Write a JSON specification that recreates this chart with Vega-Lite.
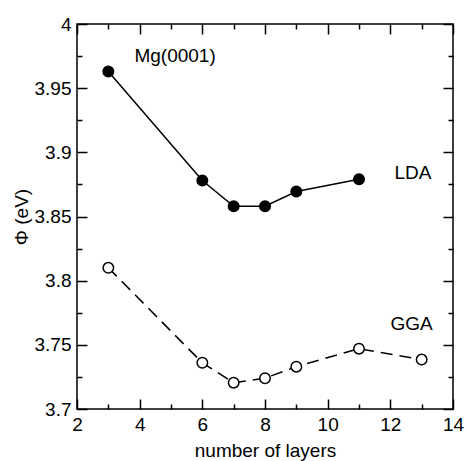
{
  "$schema": "https://vega.github.io/schema/vega-lite/v6.json",
  "width": 376,
  "height": 385,
  "autosize": "none",
  "padding": {"left": 77, "top": 24, "right": 14, "bottom": 52},
  "background": "white",
  "config": {
    "view": {"stroke": "black", "strokeWidth": 1.5},
    "font": "Liberation Sans",
    "axis": {
      "domain": false,
      "ticks": true,
      "tickColor": "#000000",
      "tickOpacity": 1,
      "tickWidth": 1.5,
      "grid": false,
      "labelFont": "Liberation Sans",
      "labelFontSize": 19,
      "labelColor": "black",
      "labelFlush": false,
      "labelOverlap": false,
      "titleFont": "Liberation Sans",
      "titleFontSize": 19,
      "titleFontWeight": "normal",
      "titleColor": "black"
    }
  },
  "data": {
    "values": [
      {"layers": 3, "phi": 3.963, "method": "LDA"},
      {"layers": 6, "phi": 3.878, "method": "LDA"},
      {"layers": 7, "phi": 3.858, "method": "LDA"},
      {"layers": 8, "phi": 3.858, "method": "LDA"},
      {"layers": 9, "phi": 3.8695, "method": "LDA"},
      {"layers": 11, "phi": 3.879, "method": "LDA"},
      {"layers": 3, "phi": 3.810, "method": "GGA"},
      {"layers": 6, "phi": 3.736, "method": "GGA"},
      {"layers": 7, "phi": 3.7205, "method": "GGA"},
      {"layers": 8, "phi": 3.724, "method": "GGA"},
      {"layers": 9, "phi": 3.733, "method": "GGA"},
      {"layers": 11, "phi": 3.747, "method": "GGA"},
      {"layers": 13, "phi": 3.7385, "method": "GGA"}
    ]
  },
  "layer": [
    {
      "transform": [{"filter": "datum.method === 'LDA'"}],
      "mark": {"type": "line", "color": "black", "strokeWidth": 1.5, "clip": false},
      "encoding": {
        "x": {
          "field": "layers", "type": "quantitative",
          "scale": {"domain": [2, 14], "nice": false, "zero": false},
          "axis": {
            "orient": "bottom",
            "offset": -10,
            "tickSize": 10,
            "labelPadding": 6,
            "values": [2, 4, 6, 8, 10, 12, 14],
            "title": "number of layers",
            "titleBaseline": "alphabetic",
            "titleY": 57
          }
        },
        "y": {
          "field": "phi", "type": "quantitative",
          "scale": {"domain": [3.7, 4.0], "nice": false, "zero": false},
          "axis": {
            "orient": "left",
            "offset": -10,
            "tickSize": 10,
            "labelPadding": 6,
            "values": [3.7, 3.75, 3.8, 3.85, 3.9, 3.95, 4.0],
            "format": "~g",
            "title": "Φ (eV)",
            "titleX": -66,
            "titleY": 192.5,
            "titleAlign": "center",
            "titleBaseline": "middle"
          }
        }
      }
    },
    {
      "transform": [{"filter": "datum.method === 'GGA'"}],
      "mark": {"type": "line", "color": "black", "strokeWidth": 1.5, "strokeDash": [12, 7], "clip": false},
      "encoding": {
        "x": {
          "field": "layers", "type": "quantitative",
          "axis": {
            "orient": "top",
            "offset": -10,
            "tickSize": 10,
            "labels": false,
            "title": null,
            "values": [2, 4, 6, 8, 10, 12, 14]
          }
        },
        "y": {
          "field": "phi", "type": "quantitative",
          "axis": {
            "orient": "right",
            "offset": -10,
            "tickSize": 10,
            "labels": false,
            "title": null,
            "values": [3.7, 3.75, 3.8, 3.85, 3.9, 3.95, 4.0]
          }
        }
      }
    },
    {
      "mark": {"type": "point", "shape": "circle", "size": 110, "stroke": "black", "strokeWidth": 1.5, "opacity": 1, "filled": false, "clip": false},
      "encoding": {
        "x": {
          "field": "layers", "type": "quantitative",
          "axis": {
            "orient": "bottom",
            "offset": -5,
            "tickSize": 5,
            "labels": false,
            "title": null,
            "values": [3, 5, 7, 9, 11, 13]
          }
        },
        "y": {
          "field": "phi", "type": "quantitative",
          "axis": {
            "orient": "left",
            "offset": -5,
            "tickSize": 5,
            "labels": false,
            "title": null,
            "values": [3.725, 3.775, 3.825, 3.875, 3.925, 3.975]
          }
        },
        "fill": {
          "field": "method", "type": "nominal",
          "scale": {"domain": ["LDA", "GGA"], "range": ["black", "white"]},
          "legend": null
        }
      }
    },
    {
      "data": {
        "values": [
          {"layers": 5.13, "phi": 3.975, "label": "Mg(0001)"},
          {"layers": 12.72, "phi": 3.884, "label": "LDA"},
          {"layers": 12.68, "phi": 3.766, "label": "GGA"}
        ]
      },
      "mark": {"type": "text", "font": "Liberation Sans", "fontSize": 19, "color": "black", "align": "center", "baseline": "middle"},
      "encoding": {
        "x": {
          "field": "layers", "type": "quantitative",
          "axis": {
            "orient": "top",
            "offset": -5,
            "tickSize": 5,
            "labels": false,
            "title": null,
            "values": [3, 5, 7, 9, 11, 13]
          }
        },
        "y": {
          "field": "phi", "type": "quantitative",
          "axis": {
            "orient": "right",
            "offset": -5,
            "tickSize": 5,
            "labels": false,
            "title": null,
            "values": [3.725, 3.775, 3.825, 3.875, 3.925, 3.975]
          }
        },
        "text": {"field": "label"}
      }
    }
  ],
  "resolve": {"axis": {"x": "independent", "y": "independent"}}
}
